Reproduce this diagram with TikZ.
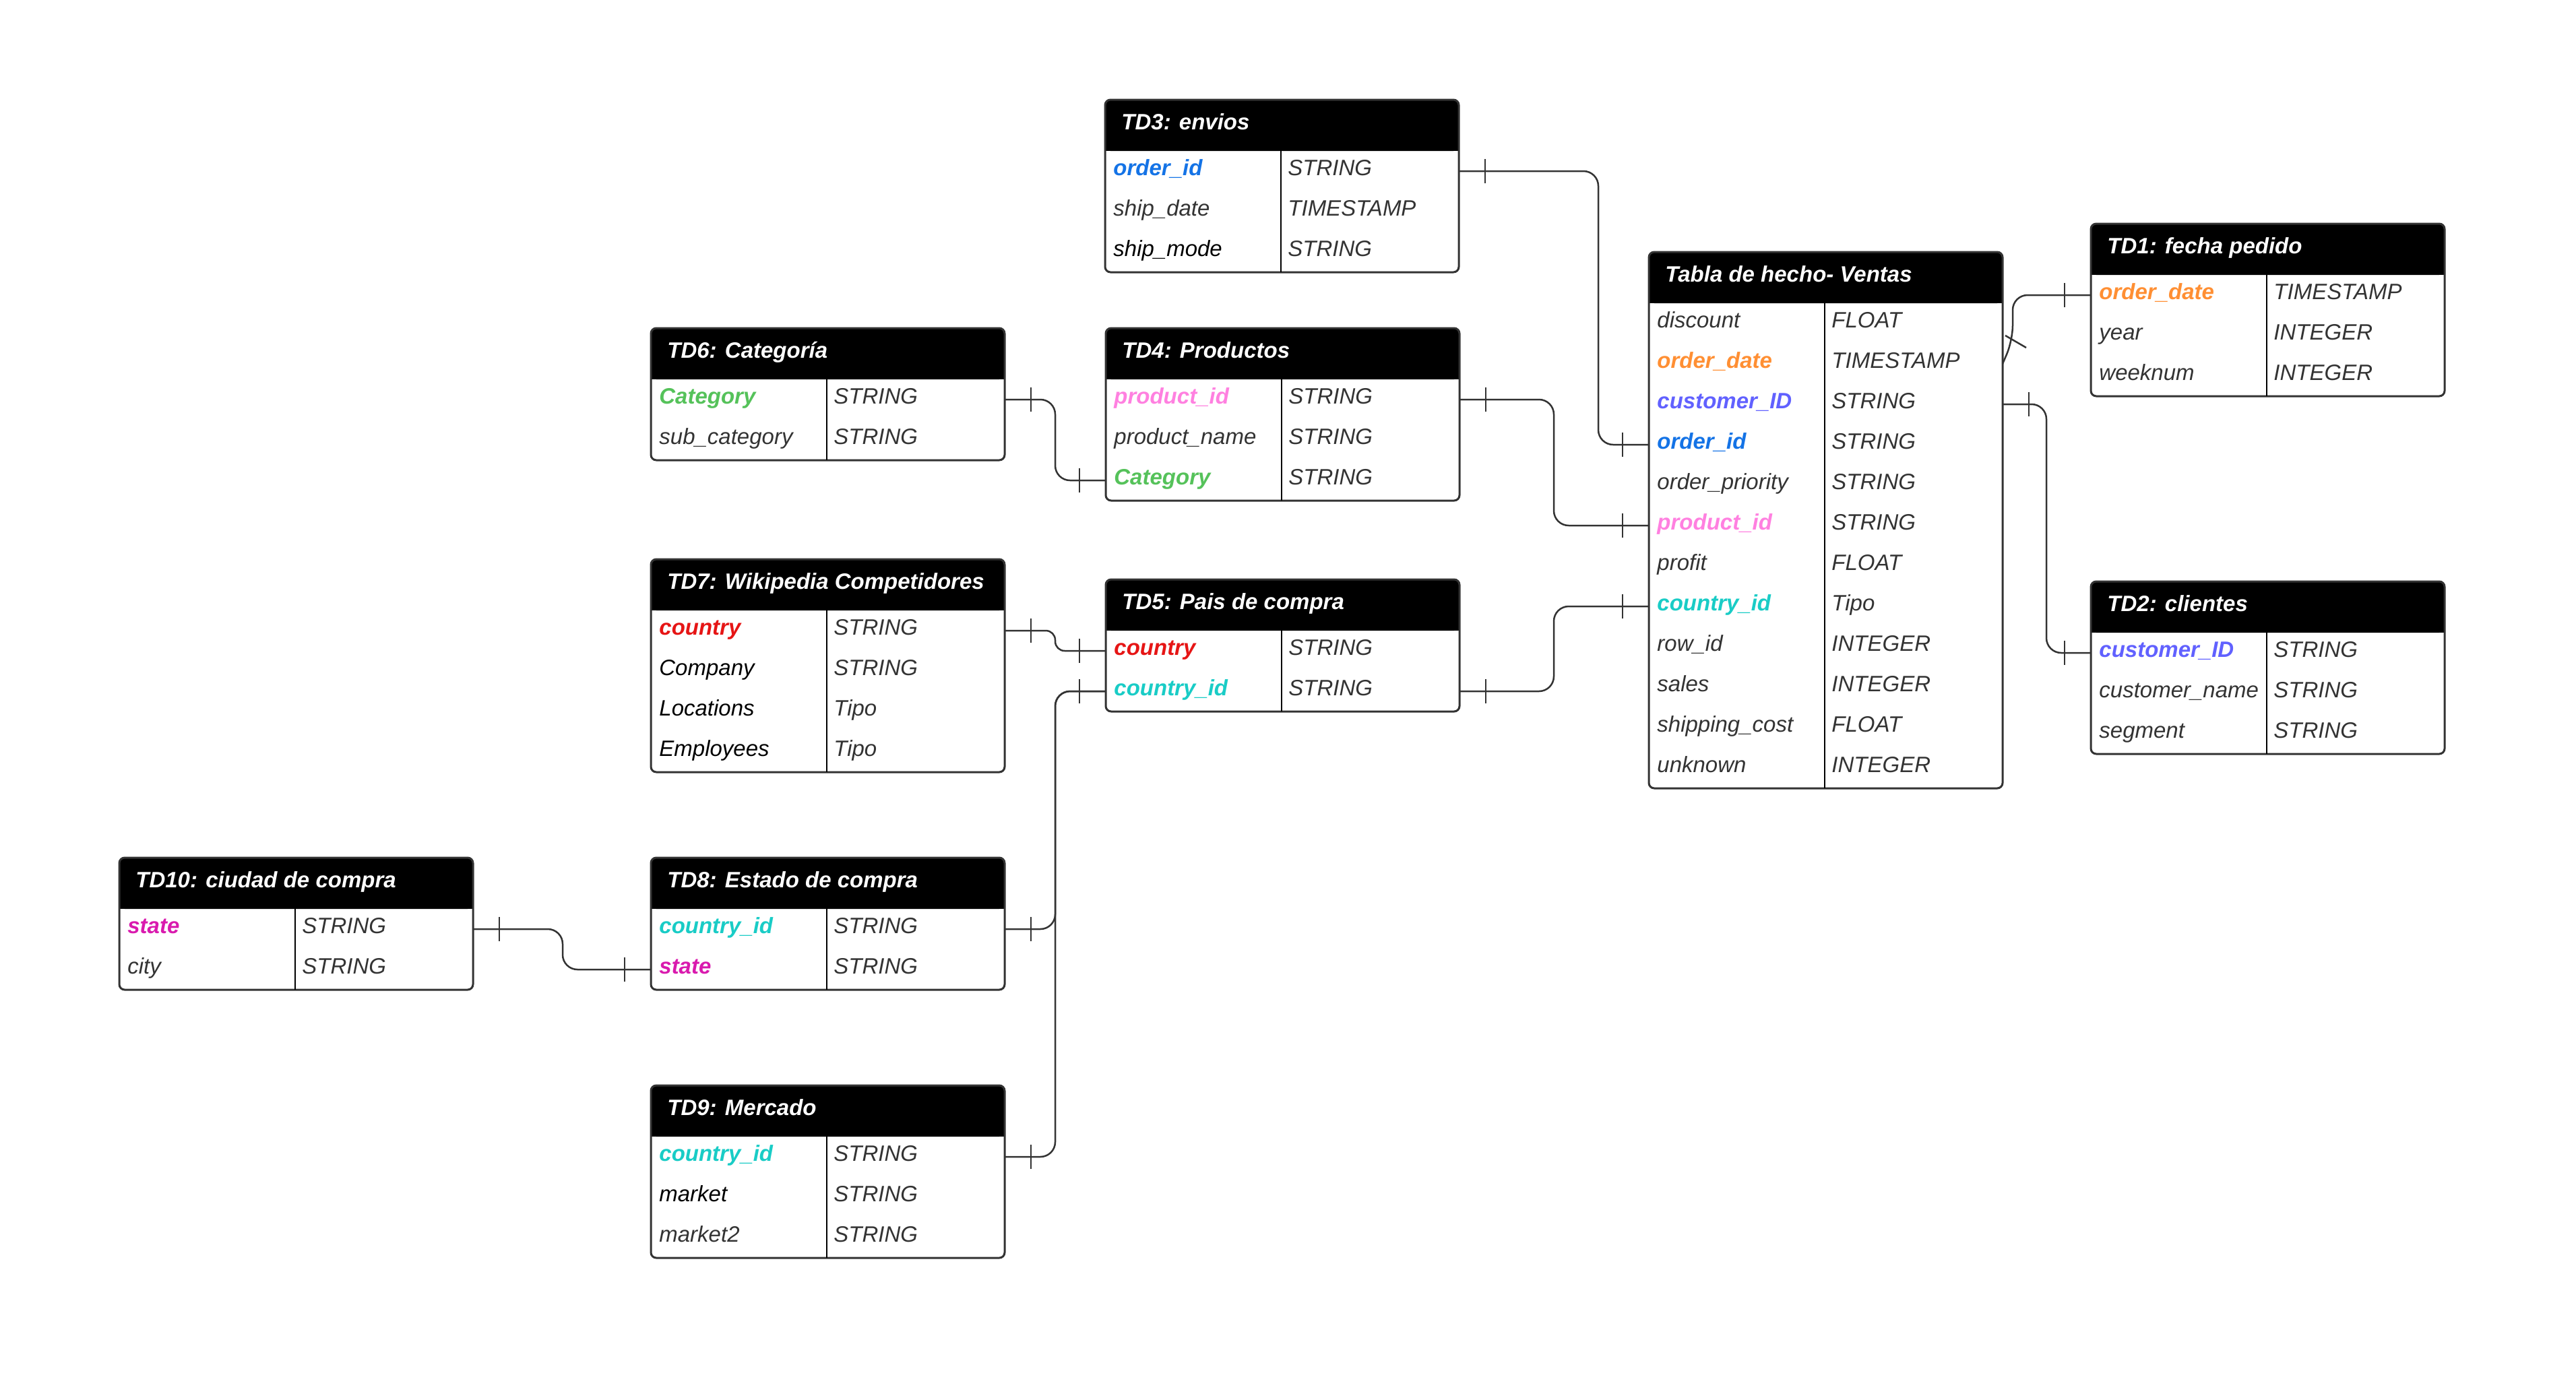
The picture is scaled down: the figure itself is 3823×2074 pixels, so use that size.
\documentclass[tikz,border=0pt]{standalone}
\usepackage{fontspec}
\setmainfont{Liberation Sans}
\usepackage{tikz}
\usetikzlibrary{calc}

\definecolor{txtgray}{HTML}{333333}
\definecolor{linegray}{HTML}{333333}
\definecolor{cOrderId}{HTML}{1473E6}
\definecolor{cOrderDate}{HTML}{FF8F33}
\definecolor{cCustomer}{HTML}{6161FF}
\definecolor{cProduct}{HTML}{FF80E0}
\definecolor{cCountryId}{HTML}{19CCC6}
\definecolor{cCategory}{HTML}{55C25A}
\definecolor{cCountry}{HTML}{E61515}
\definecolor{cState}{HTML}{D91AAE}

\begin{document}
\begin{tikzpicture}[x=0.5pt, y=-0.5pt,
    frame/.style={draw=linegray, line width=1.5pt, rounded corners=4pt},
    divline/.style={draw=black, line width=1pt},
    conn/.style={draw=linegray, line width=1.25pt, rounded corners=11pt},
    tick/.style={draw=linegray, line width=1.25pt},
    head/.style={anchor=base west, inner sep=0pt, text=white, font=\fontsize{16.5}{20}\selectfont\bfseries\itshape},
    fld/.style={anchor=base west, inner sep=0pt, text=txtgray, font=\fontsize{16.5}{20}\selectfont\itshape},
    fldk/.style={fld, text=black},
    key/.style={fld, font=\fontsize{16.5}{20}\selectfont\bfseries\itshape},
    koid/.style={key, text=cOrderId},
    kodate/.style={key, text=cOrderDate},
    kcust/.style={key, text=cCustomer},
    kprod/.style={key, text=cProduct},
    kcid/.style={key, text=cCountryId},
    kcat/.style={key, text=cCategory},
    kctry/.style={key, text=cCountry},
    kstate/.style={key, text=cState}]

    \useasboundingbox (0,0) rectangle (3823,2074);

    % Draw the tables: header, frame, column line and row anchors
    \foreach \n/\x/\y/\r/\ttl in {td3/1640/148/3/{TD3: envios},
        td4/1641/487/3/{TD4: Productos},
        td5/1641/860/2/{TD5: Pais de compra},
        td6/966/487/2/{TD6: Categoría},
        td7/966/830/4/{TD7: Wikipedia Competidores},
        td8/966/1273/2/{TD8: Estado de compra},
        td9/966/1611/3/{TD9: Mercado},
        td10/177/1273/2/{TD10: ciudad de compra},
        fact/2447/374/12/{Tabla de hecho- Ventas},
        td1/3103/332/3/{TD1: fecha pedido},
        td2/3103/863/3/{TD2: clientes}}
    {
        \fill[white, rounded corners=4pt] (\x,\y) rectangle ++(525,{76+60*\r});
        \fill[black, rounded corners=4pt] (\x,\y) rectangle ++(525,76);
        \fill[black] (\x,\y+40) rectangle ++(525,36);
        \draw[frame] (\x,\y) rectangle ++(525,{76+60*\r});
        \draw[divline] (\x+261,\y+76) -- ++(0,{60*\r});
        \node[head] (\n-h) at (\x+24,\y+44) {\ttl};
        \foreach \i in {1,...,\r} {
            \coordinate (\n-w\i) at (\x,{\y+46+60*\i});
            \coordinate (\n-e\i) at (\x+525,{\y+46+60*\i});
        }
    }

    % Fill in the fields and their types
    \foreach \n/\i/\nm/\st/\ty in {td3/1/order\_id/koid/STRING, td3/2/ship\_date/fld/TIMESTAMP, td3/3/ship\_mode/fldk/STRING,
        td4/1/product\_id/kprod/STRING, td4/2/product\_name/fld/STRING, td4/3/Category/kcat/STRING,
        td5/1/country/kctry/STRING, td5/2/country\_id/kcid/STRING,
        td6/1/Category/kcat/STRING, td6/2/sub\_category/fld/STRING,
        td7/1/country/kctry/STRING, td7/2/Company/fldk/STRING, td7/3/Locations/fldk/Tipo, td7/4/Employees/fldk/Tipo,
        td8/1/country\_id/kcid/STRING, td8/2/state/kstate/STRING,
        td9/1/country\_id/kcid/STRING, td9/2/market/fldk/STRING, td9/3/market2/fld/STRING,
        td10/1/state/kstate/STRING, td10/2/city/fld/STRING,
        fact/1/discount/fld/FLOAT, fact/2/order\_date/kodate/TIMESTAMP, fact/3/customer\_ID/kcust/STRING,
        fact/4/order\_id/koid/STRING, fact/5/order\_priority/fld/STRING, fact/6/product\_id/kprod/STRING,
        fact/7/profit/fld/FLOAT, fact/8/country\_id/kcid/Tipo, fact/9/row\_id/fld/INTEGER,
        fact/10/sales/fld/INTEGER, fact/11/shipping\_cost/fld/FLOAT, fact/12/unknown/fld/INTEGER,
        td1/1/order\_date/kodate/TIMESTAMP, td1/2/year/fld/INTEGER, td1/3/weeknum/fld/INTEGER,
        td2/1/customer\_ID/kcust/STRING, td2/2/customer\_name/fld/STRING, td2/3/segment/fld/STRING}
    {
        \node[\st] (\n-f\i) at ($(\n-w\i)+(12,6)$) {\nm};
        \node[fld] (\n-t\i) at ($(\n-w\i)+(271,6)$) {\ty};
    }

    % Lanes of the connectors
    \coordinate (l-oid) at (2372,0);
    \coordinate (l-prod) at (2306,0);
    \coordinate (l-cat) at (1566,0);
    \coordinate (l-state) at (835,0);
    \coordinate (l-cust) at (3037,0);
    \coordinate (l-odate) at (2987,505);

    % Draw the relations
    \draw[conn] (td3-e1) -| (l-oid |- fact-w4) -- (fact-w4);
    \draw[conn] (td4-e1) -| (l-prod |- fact-w6) -- (fact-w6);
    \draw[conn] (td5-e2) -| (l-prod |- fact-w8) -- (fact-w8);
    \draw[conn] (td6-e1) -| (l-cat |- td4-w3) -- (td4-w3);
    \draw[conn, rounded corners=7pt] (td7-e1) -| (l-cat |- td5-w1) -- (td5-w1);
    \draw[conn] (td5-w2) -| (l-cat |- td8-e1) -- (td8-e1);
    \draw[conn] (td5-w2) -| (l-cat |- td9-e1) -- (td9-e1);
    \draw[conn] (td10-e1) -| (l-state |- td8-w2) -- (td8-w2);
    \draw[conn] (fact-e3) -| (l-cust |- td2-w1) -- (td2-w1);
    \draw[conn] (td1-w1) -| (l-odate) [sharp corners] -- (fact-e2);
    \draw[tick] ($(fact-e2)+(4,-42)$) -- ++(31,18);

    % One-ticks next to the tables
    \foreach \p in {td3-e1, td4-e1, td5-e2, td6-e1, td7-e1, td8-e1, td9-e1, td10-e1, fact-e3}
        \draw[tick] ($(\p)+(39,-18)$) -- ++(0,36);
    \foreach \p in {fact-w4, fact-w6, fact-w8, td4-w3, td5-w1, td5-w2, td8-w2, td2-w1, td1-w1}
        \draw[tick] ($(\p)+(-39,-18)$) -- ++(0,36);
\end{tikzpicture}
\end{document}
